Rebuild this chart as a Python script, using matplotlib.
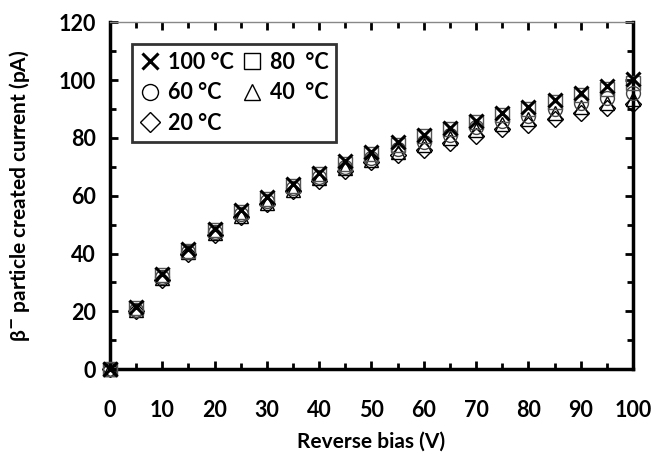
import matplotlib.pyplot as plt
from matplotlib.ticker import MultipleLocator

plt.rcParams['font.family'] = ['Lato', 'DejaVu Sans']
plt.rcParams['font.weight'] = 'bold'

# reverse bias (V)
bias = [0, 5, 10, 15, 20, 25, 30, 35, 40, 45, 50,
        55, 60, 65, 70, 75, 80, 85, 90, 95, 100]

# beta particle created current (pA) per temperature
i_100 = [0, 21.5, 33, 41.5, 48.5, 55, 59.5, 64, 68, 72, 75,
         78.5, 81, 83.5, 86, 88.7, 90.8, 93.2, 95.6, 98, 100.5]
i_80 = [0, 21, 32.5, 41, 48, 54.5, 59, 63.5, 67.5, 71, 74.5,
        77.5, 80.5, 83, 85.5, 88, 90, 92.3, 94.8, 97, 99]
i_60 = [0, 20.5, 32, 40.5, 47.5, 53.5, 58, 62.5, 66.5, 70, 73,
        76, 78.5, 81, 83.6, 85.9, 87.6, 90, 92.2, 93.9, 95.5]
i_40 = [0, 20.5, 31.5, 40.5, 47, 53, 57.5, 62, 66, 69.5, 72.5,
        75, 77.5, 80, 82.7, 84.8, 86.5, 88.7, 90.8, 92.2, 93.5]
i_20 = [0, 20, 31, 40, 46.5, 52.5, 57, 61.5, 65, 68.5, 71.5,
        74, 75.8, 78.3, 80.7, 83, 84.3, 86.5, 88.7, 90.4, 91.7]

labels = ['100 °C', '80  °C', '60 °C', '40  °C', '20 °C']

fig = plt.figure(figsize=(6.54, 4.53), dpi=100)
ax = fig.add_axes([0.168, 0.185, 0.8, 0.766])

series = [
    (i_20, 'D', 'black', 8.5, labels[4]),
    (i_40, '^', 'black', 10, labels[3]),
    (i_60, 'o', '#444444', 10, labels[2]),
    (i_80, 's', '#555555', 9.5, labels[1]),
    (i_100, 'x', 'black', 10, labels[0]),
]
h = {}
for ys, m, c, ms, lab in series:
    mew = 2.2 if m == 'x' else 1.0
    line, = ax.plot(bias, ys, ls='none', marker=m, ms=ms, mfc='none',
                    mec=c, mew=mew, label=lab, clip_on=False, zorder=3)
    h[lab] = line

# legend laid out row-wise as in the original: 100/80, 60/40, 20
order = [labels[0], labels[2], labels[4], labels[1], labels[3]]
leg = ax.legend([h[k] for k in order], order, ncol=2, loc='upper left',
                bbox_to_anchor=(0.042, 0.937), borderaxespad=0,
                frameon=True, fancybox=False,
                edgecolor='black', handlelength=1.0, handletextpad=0.35,
                columnspacing=0.3, labelspacing=0.45, borderpad=0.35,
                markerscale=1.15,
                prop={'size': 15.5, 'weight': 'bold'})
leg.get_frame().set_linewidth(2)
leg.set_zorder(5)
for lh in leg.legend_handles:
    lh.set_markeredgecolor('black')

ax.set_xlim(0, 100)
ax.set_ylim(0, 120)
ax.xaxis.set_major_locator(MultipleLocator(10))
ax.xaxis.set_minor_locator(MultipleLocator(5))
ax.yaxis.set_major_locator(MultipleLocator(20))
ax.yaxis.set_minor_locator(MultipleLocator(10))
ax.tick_params(which='both', direction='in', top=True, right=True,
               labelsize=15.5, width=2)
ax.tick_params(axis='x', pad=22)
ax.tick_params(axis='y', pad=10)
ax.tick_params(which='major', length=6)
ax.tick_params(which='minor', length=4)
for lbl in ax.get_xticklabels() + ax.get_yticklabels():
    lbl.set_fontweight('bold')

for s in ['left', 'bottom', 'right']:
    ax.spines[s].set_linewidth(2.5)
ax.spines['top'].set_linewidth(1)
ax.spines['top'].set_color('#888888')

ax.set_xlabel('Reverse bias (V)', fontsize=15, fontweight='bold', labelpad=8)
ax.set_ylabel(r'β$^{\mathbf{-}}$ particle created current (pA)',
              fontsize=15, fontweight='bold', labelpad=19)

fig.savefig('out.png', dpi=100)
